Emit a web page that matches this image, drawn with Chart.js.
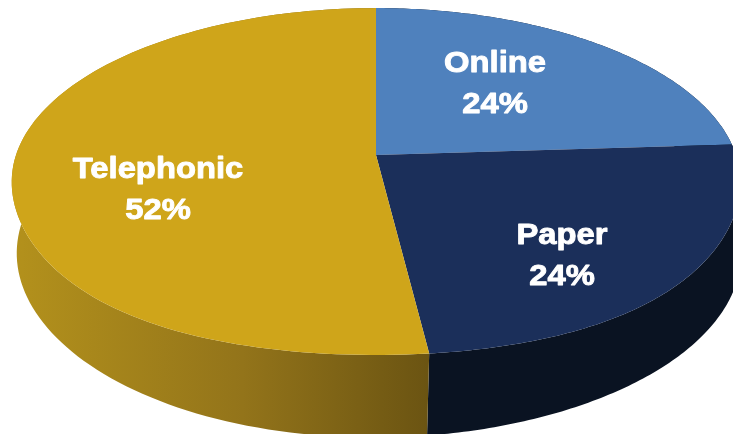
<!DOCTYPE html>
<html>
<head>
<meta charset="utf-8">
<title>Survey mode</title>
<script src="https://cdn.jsdelivr.net/npm/chart.js@4"></script>
<style>
	html, body { margin: 0; padding: 0; background: #fff; overflow: hidden; }
	canvas { display: block; }
</style>
</head>
<body>
<canvas id="grafico_torta" width="733" height="434"></canvas>
<script>
var categories = ['Online', 'Paper', 'Telephonic'];
var shares = [24, 24, 52];
var topColors = ['#4f81bd', '#1b2f5a', '#cfa51a'];

// perspective of the disc, top face and bottom face
var k = 0.153;
var topFace = { cx: 376, cy: 155, rx: 360, ry: 169.4, sag: 6, drift: 0 };
var bottomFace = { cx: 379, cy: 225, rx: 358, ry: 180, sag: 0, drift: 5 };

// label centres, one per slice
var labelX = [495, 562, 158];
var labelY = [64, 236, 170];
var labelGap = 41;

function project(face, angle) {
	var u = Math.cos(angle);
	var v = Math.sin(angle);
	var w = 1 - k * v;
	// the front of the top face hangs a bit lower on the diagonals
	var sag = v > 0 ? face.sag * 4 * u * u * v * v : 0;
	// keeps the seam between the front walls upright
	var drift = v > 0 ? face.drift * Math.pow(v, 4) : 0;
	return { x: face.cx + face.rx * u / w - drift, y: face.cy + face.ry * v / w + sag };
}

function traceEdge(ctx, face, from, to) {
	var steps = 120;
	for (var i = 0; i <= steps; i++) {
		var p = project(face, from + (to - from) * i / steps);
		ctx.lineTo(p.x, p.y);
	}
}

function wallFill(ctx, index) {
	var g = ctx.createLinearGradient(15, 0, 428, 0);
	if (index == 2) {
		g.addColorStop(0, '#b3911c');
		g.addColorStop(0.55, '#93741a');
		g.addColorStop(1, '#6b5412');
	} else {
		g.addColorStop(0, '#0a1322');
		g.addColorStop(1, '#0a1322');
	}
	return g;
}

var pie3d = {
	id: 'pie3d',
	beforeDatasetDraw: function(chart, args) {
		var ctx = chart.ctx;
		var arcs = args.meta.data;
		ctx.save();
		// side walls first
		arcs.forEach(function(arc, i) {
			ctx.beginPath();
			traceEdge(ctx, topFace, arc.startAngle, arc.endAngle);
			traceEdge(ctx, bottomFace, arc.endAngle, arc.startAngle);
			ctx.closePath();
			ctx.fillStyle = wallFill(ctx, i);
			ctx.fill();
		});
		// top faces over them
		arcs.forEach(function(arc, i) {
			ctx.beginPath();
			ctx.moveTo(topFace.cx, topFace.cy);
			traceEdge(ctx, topFace, arc.startAngle, arc.endAngle);
			ctx.closePath();
			ctx.fillStyle = arc.options.backgroundColor;
			ctx.fill();
		});
		ctx.restore();
		return false;
	},
	afterDatasetsDraw: function(chart) {
		var ctx = chart.ctx;
		ctx.save();
		ctx.fillStyle = '#ffffff';
		ctx.strokeStyle = '#ffffff';
		ctx.lineWidth = 0.9;
		ctx.lineJoin = 'round';
		ctx.font = 'bold 29px "Liberation Sans"';
		ctx.textAlign = 'center';
		ctx.textBaseline = 'middle';
		categories.forEach(function(name, i) {
			drawLabel(ctx, name, labelX[i], labelY[i]);
			drawLabel(ctx, shares[i] + '%', labelX[i], labelY[i] + labelGap);
		});
		ctx.restore();
	}
};

function drawLabel(ctx, text, x, y) {
	ctx.save();
	ctx.translate(x, y);
	ctx.scale(1.13, 1);
	ctx.fillText(text, 0, 0);
	ctx.strokeText(text, 0, 0);
	ctx.restore();
}

var grafico_torta = new Chart(document.getElementById('grafico_torta').getContext('2d'), {
	type: 'pie',
	data: {
		labels: categories,
		datasets: [{ data: shares, backgroundColor: topColors, borderWidth: 0 }]
	},
	options: {
		responsive: false,
		animation: false,
		plugins: { legend: { display: false }, tooltip: { enabled: false } }
	},
	plugins: [pie3d]
});
</script>
</body>
</html>
